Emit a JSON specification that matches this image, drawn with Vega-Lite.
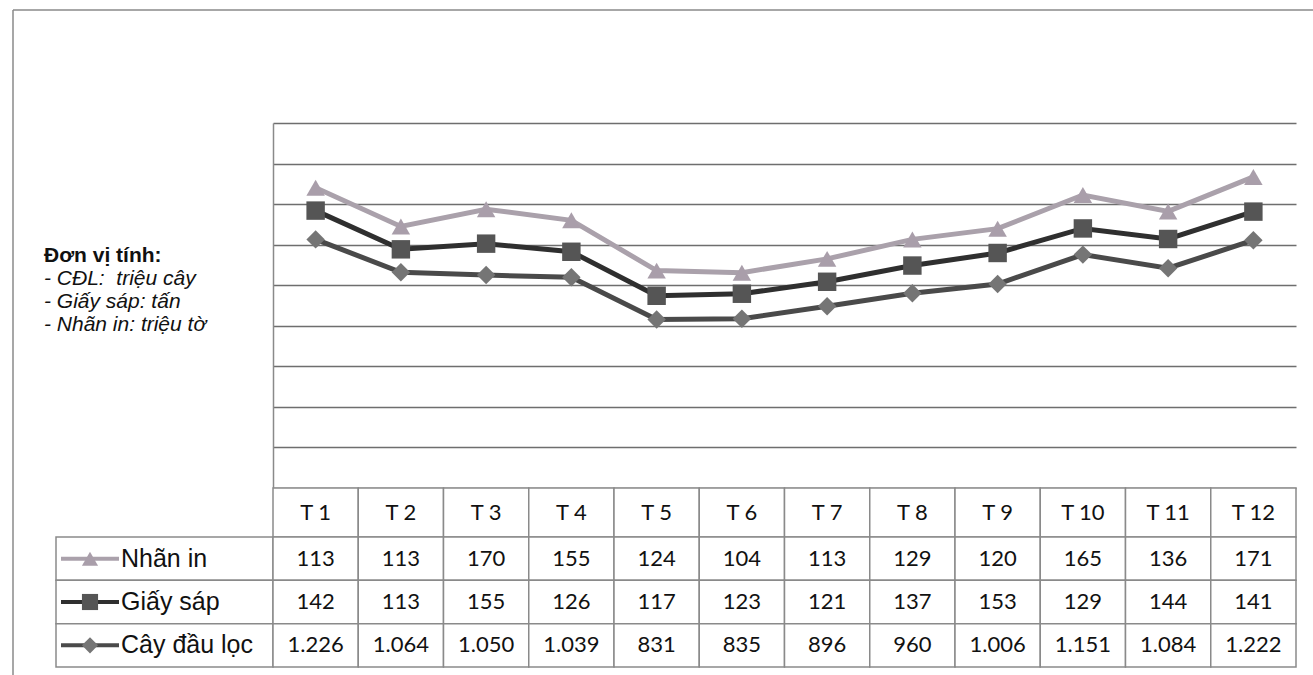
{
  "$schema": "https://vega.github.io/schema/vega-lite/v6.json",
  "background": "white",
  "padding": {"left": 12, "top": 9, "right": 0, "bottom": 0},
  "config": {
    "view": {"stroke": null},
    "locale": {"number": {"decimal": ",", "thousands": ".", "grouping": [3], "currency": ["", " đ"]}}
  },
  "datasets": {
    "monthly": [
      {"month": "T 1", "series": "Nhãn in", "value": 113},
      {"month": "T 2", "series": "Nhãn in", "value": 113},
      {"month": "T 3", "series": "Nhãn in", "value": 170},
      {"month": "T 4", "series": "Nhãn in", "value": 155},
      {"month": "T 5", "series": "Nhãn in", "value": 124},
      {"month": "T 6", "series": "Nhãn in", "value": 104},
      {"month": "T 7", "series": "Nhãn in", "value": 113},
      {"month": "T 8", "series": "Nhãn in", "value": 129},
      {"month": "T 9", "series": "Nhãn in", "value": 120},
      {"month": "T 10", "series": "Nhãn in", "value": 165},
      {"month": "T 11", "series": "Nhãn in", "value": 136},
      {"month": "T 12", "series": "Nhãn in", "value": 171},
      {"month": "T 1", "series": "Giấy sáp", "value": 142},
      {"month": "T 2", "series": "Giấy sáp", "value": 113},
      {"month": "T 3", "series": "Giấy sáp", "value": 155},
      {"month": "T 4", "series": "Giấy sáp", "value": 126},
      {"month": "T 5", "series": "Giấy sáp", "value": 117},
      {"month": "T 6", "series": "Giấy sáp", "value": 123},
      {"month": "T 7", "series": "Giấy sáp", "value": 121},
      {"month": "T 8", "series": "Giấy sáp", "value": 137},
      {"month": "T 9", "series": "Giấy sáp", "value": 153},
      {"month": "T 10", "series": "Giấy sáp", "value": 129},
      {"month": "T 11", "series": "Giấy sáp", "value": 144},
      {"month": "T 12", "series": "Giấy sáp", "value": 141},
      {"month": "T 1", "series": "Cây đầu lọc", "value": 1226},
      {"month": "T 2", "series": "Cây đầu lọc", "value": 1064},
      {"month": "T 3", "series": "Cây đầu lọc", "value": 1050},
      {"month": "T 4", "series": "Cây đầu lọc", "value": 1039},
      {"month": "T 5", "series": "Cây đầu lọc", "value": 831},
      {"month": "T 6", "series": "Cây đầu lọc", "value": 835},
      {"month": "T 7", "series": "Cây đầu lọc", "value": 896},
      {"month": "T 8", "series": "Cây đầu lọc", "value": 960},
      {"month": "T 9", "series": "Cây đầu lọc", "value": 1006},
      {"month": "T 10", "series": "Cây đầu lọc", "value": 1151},
      {"month": "T 11", "series": "Cây đầu lọc", "value": 1084},
      {"month": "T 12", "series": "Cây đầu lọc", "value": 1222}
    ],
    "series": [
      {"series": "Nhãn in"},
      {"series": "Giấy sáp"},
      {"series": "Cây đầu lọc"}
    ],
    "frame": [{"part": "frame"}]
  },
  "columns": 2,
  "spacing": 0,
  "bounds": "flush",
  "align": "each",
  "concat": [
    {
      "width": 260,
      "height": 113,
      "data": {"name": "frame"},
      "layer": [
        {"mark": {"type": "rule", "color": "#8a8a8a", "strokeWidth": 1.5}, "encoding": {"x": {"value": 0}, "y": {"value": 0}, "y2": {"value": 113}}},
        {"mark": {"type": "rule", "color": "#8a8a8a", "strokeWidth": 1.5}, "encoding": {"y": {"value": 0}, "x": {"value": 0}, "x2": {"value": 260}}}
      ]
    },
    {
      "width": 1023,
      "height": 113,
      "data": {"name": "frame"},
      "mark": {"type": "rule", "color": "#8a8a8a", "strokeWidth": 1.5},
      "encoding": {"x": {"value": 0}, "x2": {"value": 1041}, "y": {"value": 0}}
    },
    {
      "width": 260,
      "height": 365,
      "layer": [
        {"data": {"name": "frame"}, "mark": {"type": "rule", "color": "#8a8a8a", "strokeWidth": 1.5}, "encoding": {"x": {"value": 0}, "y": {"value": 0}, "y2": {"value": 365}}},
        {
          "data": {"values": [{"line": "Đơn vị tính:"}]},
          "mark": {"type": "text", "align": "left", "baseline": "middle", "font": "Liberation Sans", "fontSize": 21, "fontWeight": "bold", "color": "#111111"},
          "encoding": {
            "x": {"value": 31},
            "y": {"field": "line", "type": "ordinal", "axis": null,
                  "scale": {"type": "point", "padding": 0, "domain": ["Đơn vị tính:", "- CĐL:  triệu cây", "- Giấy sáp: tấn", "- Nhãn in: triệu tờ"], "range": [133, 202]}},
            "text": {"field": "line"}
          }
        },
        {
          "data": {"values": [{"line": "- CĐL:  triệu cây", "shown": "- CĐL:\u00a0 triệu cây"}, {"line": "- Giấy sáp: tấn", "shown": "- Giấy sáp: tấn"}, {"line": "- Nhãn in: triệu tờ", "shown": "- Nhãn in: triệu tờ"}]},
          "mark": {"type": "text", "align": "left", "baseline": "middle", "font": "Liberation Sans", "fontSize": 21, "fontStyle": "italic", "color": "#111111"},
          "encoding": {
            "x": {"value": 31},
            "y": {"field": "line", "type": "ordinal", "axis": null},
            "text": {"field": "shown"}
          }
        }
      ]
    },
    {
      "width": 1023,
      "height": 365,
      "data": {"name": "monthly"},
      "transform": [
        {"stack": "value", "groupby": ["month"], "sort": [{"field": "series", "order": "ascending"}], "as": ["v0", "v1"]}
      ],
      "encoding": {
        "x": {"field": "month", "type": "ordinal", "axis": null,
              "scale": {"type": "point", "padding": 0.5, "domain": ["T 1", "T 2", "T 3", "T 4", "T 5", "T 6", "T 7", "T 8", "T 9", "T 10", "T 11", "T 12"]}},
        "y": {"field": "v1", "type": "quantitative", "stack": null,
              "scale": {"domain": [0, 1800], "nice": false, "zero": true},
              "axis": {"title": null, "labels": false, "ticks": false, "domain": true, "domainColor": "#8a8a8a", "domainWidth": 1.5,
                       "grid": true, "gridColor": "#6e6e6e", "gridWidth": 1.5,
                       "values": [0, 200, 400, 600, 800, 1000, 1200, 1400, 1600, 1800]}}
      },
      "layer": [
        {
          "mark": {"type": "line", "strokeWidth": 5},
          "encoding": {
            "color": {"field": "series", "type": "nominal", "legend": null,
                      "scale": {"domain": ["Nhãn in", "Giấy sáp", "Cây đầu lọc"], "range": ["#aaa1ab", "#2f2f2f", "#4a4a4a"]}}
          }
        },
        {
          "mark": {"type": "point", "filled": true, "opacity": 1, "size": 340},
          "encoding": {
            "fill": {"field": "series", "type": "nominal", "legend": null,
                     "scale": {"domain": ["Nhãn in", "Giấy sáp", "Cây đầu lọc"], "range": ["#a99eaa", "#555555", "#757575"]}},
            "shape": {"field": "series", "type": "nominal", "legend": null,
                      "scale": {"domain": ["Nhãn in", "Giấy sáp", "Cây đầu lọc"], "range": ["triangle-up", "square", "diamond"]}}
          }
        }
      ]
    },
    {
      "width": 260,
      "height": 49,
      "data": {"name": "frame"},
      "mark": {"type": "rule", "color": "#8a8a8a", "strokeWidth": 1.5},
      "encoding": {"x": {"value": 0}, "y": {"value": 0}, "y2": {"value": 49}}
    },
    {
      "width": 1023,
      "height": 49,
      "data": {"name": "monthly"},
      "transform": [{"filter": "datum.series === 'Cây đầu lọc'"}],
      "encoding": {
        "x": {"field": "month", "type": "ordinal", "axis": null,
              "scale": {"type": "band", "paddingInner": 0, "paddingOuter": 0, "domain": ["T 1", "T 2", "T 3", "T 4", "T 5", "T 6", "T 7", "T 8", "T 9", "T 10", "T 11", "T 12"]}}
      },
      "layer": [
        {"mark": {"type": "rect", "fill": "white", "stroke": "#8a8a8a", "strokeWidth": 1.5}, "encoding": {}},
        {"mark": {"type": "text", "font": "Lato", "fontSize": 22, "color": "#111111", "baseline": "middle"},
         "encoding": {"text": {"field": "month"}}}
      ]
    },
    {
      "width": 260,
      "height": 130,
      "data": {"name": "series"},
      "encoding": {
        "y": {"field": "series", "type": "nominal", "axis": null,
              "scale": {"type": "band", "domain": ["Nhãn in", "Giấy sáp", "Cây đầu lọc"], "paddingInner": 0, "paddingOuter": 0}}
      },
      "layer": [
        {
          "data": {"name": "frame"},
          "mark": {"type": "rule", "color": "#8a8a8a", "strokeWidth": 1.5},
          "encoding": {"x": {"value": 0}, "y": {"value": 0}, "y2": {"value": 145}}
        },
        {
          "mark": {"type": "rect", "fill": "white", "stroke": "#8a8a8a", "strokeWidth": 1.5},
          "encoding": {"x": {"value": 43}, "x2": {"value": 260}}
        },
        {
          "mark": {"type": "rule", "strokeWidth": 4},
          "encoding": {
            "x": {"value": 48}, "x2": {"value": 106},
            "y": {"field": "series", "type": "nominal", "bandPosition": 0.5},
            "color": {"field": "series", "type": "nominal", "legend": null,
                      "scale": {"domain": ["Nhãn in", "Giấy sáp", "Cây đầu lọc"], "range": ["#aaa1ab", "#2f2f2f", "#4a4a4a"]}}
          }
        },
        {
          "mark": {"type": "point", "filled": true, "opacity": 1, "size": 260},
          "encoding": {
            "x": {"value": 77},
            "y": {"field": "series", "type": "nominal", "bandPosition": 0.5},
            "fill": {"field": "series", "type": "nominal", "legend": null,
                     "scale": {"domain": ["Nhãn in", "Giấy sáp", "Cây đầu lọc"], "range": ["#a99eaa", "#555555", "#757575"]}},
            "shape": {"field": "series", "type": "nominal", "legend": null,
                      "scale": {"domain": ["Nhãn in", "Giấy sáp", "Cây đầu lọc"], "range": ["triangle-up", "square", "diamond"]}}
          }
        },
        {
          "mark": {"type": "text", "align": "left", "baseline": "middle", "font": "Liberation Sans", "fontSize": 25, "color": "#111111"},
          "encoding": {
            "x": {"value": 108},
            "y": {"field": "series", "type": "nominal", "bandPosition": 0.5},
            "text": {"field": "series"}
          }
        }
      ]
    },
    {
      "width": 1023,
      "height": 130,
      "data": {"name": "monthly"},
      "encoding": {
        "x": {"field": "month", "type": "ordinal", "axis": null,
              "scale": {"type": "band", "paddingInner": 0, "paddingOuter": 0, "domain": ["T 1", "T 2", "T 3", "T 4", "T 5", "T 6", "T 7", "T 8", "T 9", "T 10", "T 11", "T 12"]}},
        "y": {"field": "series", "type": "nominal", "axis": null,
              "scale": {"type": "band", "paddingInner": 0, "paddingOuter": 0, "domain": ["Nhãn in", "Giấy sáp", "Cây đầu lọc"]}}
      },
      "layer": [
        {"mark": {"type": "rect", "fill": "white", "stroke": "#8a8a8a", "strokeWidth": 1.5}},
        {"mark": {"type": "text", "font": "Lato", "fontSize": 22, "color": "#111111", "baseline": "middle"},
         "encoding": {"text": {"field": "value", "type": "quantitative", "format": ","}}}
      ]
    }
  ]
}
